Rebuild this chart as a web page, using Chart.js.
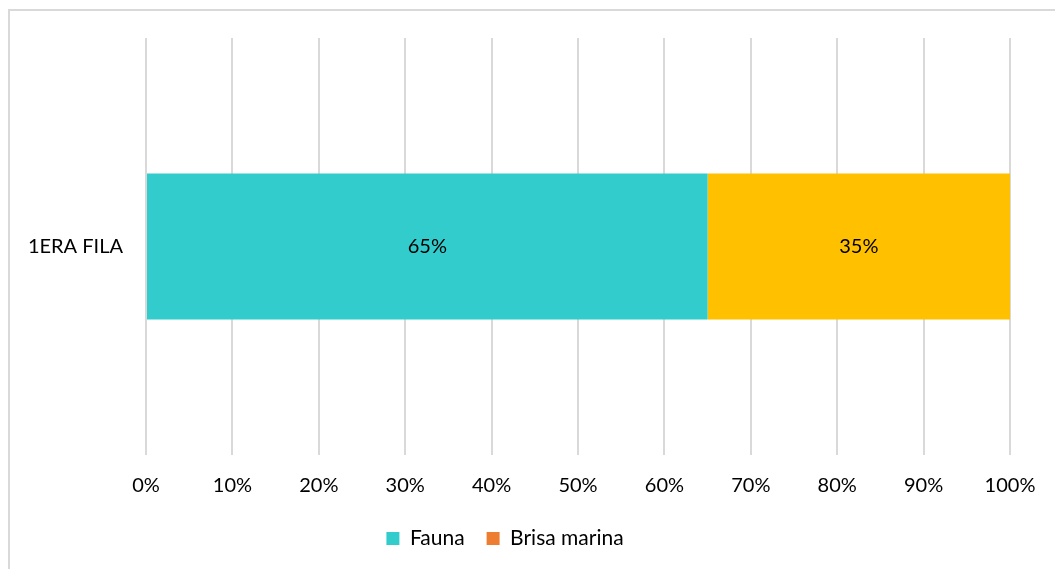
<!DOCTYPE html>
<html lang="es">
<head>
  <meta charset="UTF-8" />
  <title>1ERA FILA</title>
  <script src="https://cdn.jsdelivr.net/npm/chart.js"></script>
  <style>
    body { margin: 0; background: #fff; }
    #wrap { width: 1055px; height: 569px; }
  </style>
</head>
<body>
  <div id="wrap"><canvas id="chart"></canvas></div>
  <script>
    // datos
    const categories = ['1ERA FILA'];
    const seriesNames = ['Fauna', 'Brisa marina'];
    const fauna = [65];
    const brisaMarina = [35];
    const xTicks = [0, 10, 20, 30, 40, 50, 60, 70, 80, 90, 100];

    const barColors = ['#33CCCC', '#FFC000'];
    const legendColors = ['#33CCCC', '#ED7D31'];
    const FONT = 'Lato, "Open Sans", sans-serif';
    const SIZE = 20;

    // marco gris del gráfico
    const frame = {
      id: 'frame',
      beforeDraw(chart) {
        const c = chart.ctx;
        c.save();
        c.strokeStyle = '#d9d9d9';
        c.lineWidth = 2;
        c.strokeRect(9, 10, 1100, 600);
        c.restore();
      }
    };

    // etiquetas de valor dentro de las barras
    const valueLabels = {
      id: 'valueLabels',
      afterDatasetsDraw(chart) {
        const c = chart.ctx;
        c.save();
        c.fillStyle = '#000';
        c.font = SIZE + 'px ' + FONT;
        c.textAlign = 'center';
        c.textBaseline = 'middle';
        chart.data.datasets.forEach((ds, i) => {
          chart.getDatasetMeta(i).data.forEach((bar, j) => {
            const x = (bar.x + bar.base) / 2;
            c.fillText(ds.data[j] + '%', x, bar.y);
          });
        });
        c.restore();
      }
    };

    new Chart(document.getElementById('chart'), {
      type: 'bar',
      data: {
        labels: categories,
        datasets: [
          { label: seriesNames[0], data: fauna, backgroundColor: barColors[0] },
          { label: seriesNames[1], data: brisaMarina, backgroundColor: barColors[1] }
        ]
      },
      options: {
        indexAxis: 'y',
        responsive: true,
        maintainAspectRatio: false,
        animation: false,
        barPercentage: 0.35,
        categoryPercentage: 1,
        layout: { padding: { left: 0, right: 45, top: 38, bottom: 10 } },
        plugins: {
          tooltip: { enabled: false },
          legend: {
            position: 'bottom',
            labels: {
              color: '#000',
              font: { family: FONT, size: 21 },
              boxWidth: 13,
              boxHeight: 13,
              padding: 22,
              generateLabels(chart) {
                return chart.data.datasets.map((ds, i) => ({
                  text: ds.label,
                  fillStyle: legendColors[i],
                  strokeStyle: legendColors[i],
                  lineWidth: 0,
                  datasetIndex: i,
                  fontColor: '#000'
                }));
              }
            }
          }
        },
        scales: {
          x: {
            stacked: true,
            min: 0,
            max: 100,
            afterBuildTicks(s) { s.ticks = xTicks.map(v => ({ value: v })); },
            afterFit(s) { s.height = 51; },
            ticks: {
              color: '#000',
              font: { family: FONT, size: SIZE },
              padding: 19,
              maxRotation: 0,
              callback: v => v + '%'
            },
            grid: { color: '#d9d9d9', lineWidth: 2, drawTicks: false },
            border: { display: false }
          },
          y: {
            stacked: true,
            afterFit(s) { s.width = 146; },
            ticks: {
              color: '#000',
              font: { family: FONT, size: SIZE },
              padding: 15
            },
            grid: { display: false },
            border: { display: false }
          }
        }
      },
      plugins: [frame, valueLabels]
    });
  </script>
</body>
</html>
